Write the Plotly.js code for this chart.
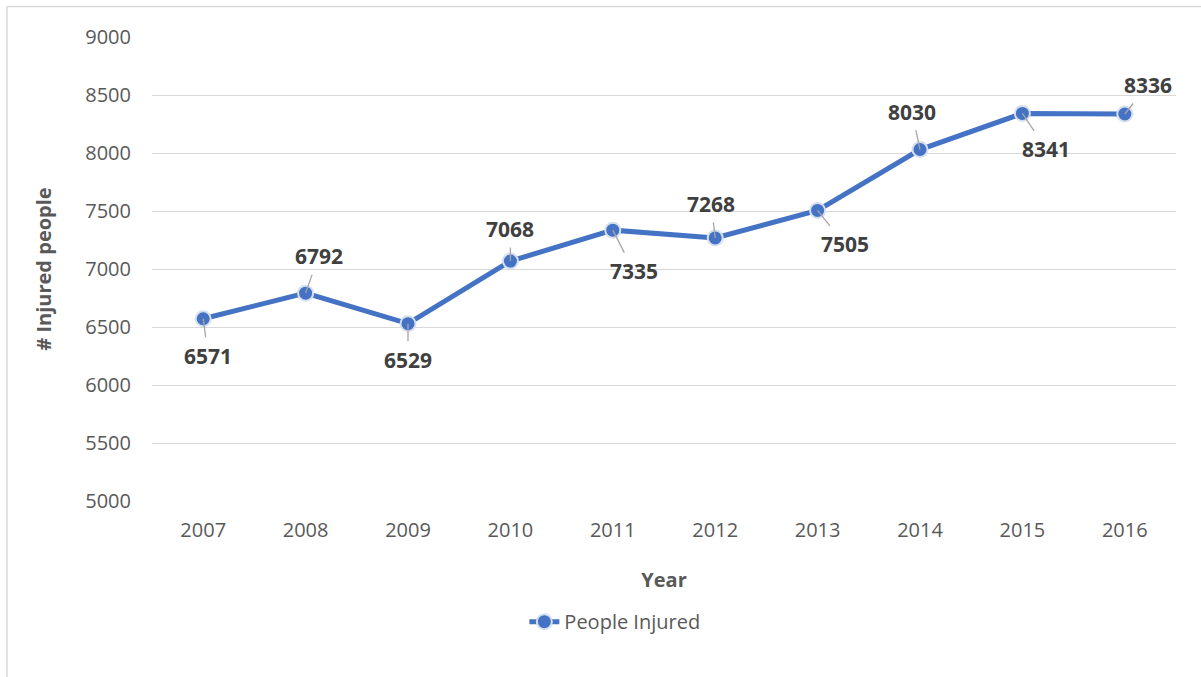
<!DOCTYPE html>
<html>
<head>
<meta charset="utf-8">
<script src="https://cdn.plot.ly/plotly-3.0.1.min.js"></script>
<style>html,body{margin:0;padding:0;background:#fff;}#chart{width:1201px;height:677px;}</style>
</head>
<body>
<div id="chart"></div>
<script>
const years = ["2007","2008","2009","2010","2011","2012","2013","2014","2015","2016"];
const injured = [6571, 6792, 6529, 7068, 7335, 7268, 7505, 8030, 8341, 8336];
const seriesName = "People Injured";
// label offsets (pixels) from each point to its data label
const labelDx = [5, 13, 0, 0, 21, -4, 27, -8, 24, 23];
const labelDy = [37, -37, 36, -32, 41, -34, 34, -38, 36, -29];

const trace = {
  x: years, y: injured, type: "scatter", mode: "lines+markers", name: seriesName,
  line: {color: "#4472C4", width: 5},
  marker: {color: "#4472C4", size: 15, line: {color: "#D6DFF0", width: 2}}
};

const annotations = injured.map((v, i) => ({
  x: i, y: v, xref: "x", yref: "y",
  text: String(v), showarrow: true, arrowhead: 0, arrowwidth: 1.3, arrowcolor: "#A6A6A6",
  ax: labelDx[i], ay: labelDy[i], standoff: 0, borderpad: 4,
  font: {family: "Open Sans, sans-serif", size: 21, color: "#404040", weight: 700}
}));

const layout = {
  width: 1201, height: 677,
  margin: {l: 152, r: 25, t: 37, b: 176},
  paper_bgcolor: "#ffffff", plot_bgcolor: "#ffffff",
  showlegend: true,
  legend: {orientation: "h", x: 0.452, xanchor: "center", y: -0.26, yanchor: "middle",
    font: {family: "Open Sans, sans-serif", size: 20, color: "#595959"}},
  xaxis: {type: "category", range: [-0.5, 9.5], showgrid: false, zeroline: false, showline: false,
    tickfont: {family: "Open Sans, sans-serif", size: 20, color: "#595959"},
    ticks: "", automargin: false, ticklabelstandoff: 15,
    title: {text: "Year", standoff: 30, font: {family: "Open Sans, sans-serif", size: 20, color: "#595959", weight: 700}}},
  yaxis: {range: [5000, 9000], dtick: 500, showgrid: true, gridcolor: "#D9D9D9", gridwidth: 1,
    zeroline: false, showline: false, ticks: "", ticklen: 0, automargin: false, ticklabelstandoff: 20,
    tickfont: {family: "Open Sans, sans-serif", size: 20, color: "#595959"},
    title: {text: "# Injured people", standoff: 28, font: {family: "Open Sans, sans-serif", size: 20, color: "#595959", weight: 700}}},
  annotations: annotations,
  shapes: [
    {type: "line", xref: "paper", yref: "paper", x0: -0.1416, x1: -0.1416, y0: 1.066, y1: -0.4, line: {color: "#D9D9D9", width: 1.5}},
    {type: "line", xref: "paper", yref: "paper", x0: -0.1416, x1: 1.03, y0: 1.066, y1: 1.066, line: {color: "#D9D9D9", width: 1.5}}
  ]
};
Plotly.newPlot("chart", [trace], layout, {displayModeBar: false, staticPlot: true});
</script>
</body>
</html>
